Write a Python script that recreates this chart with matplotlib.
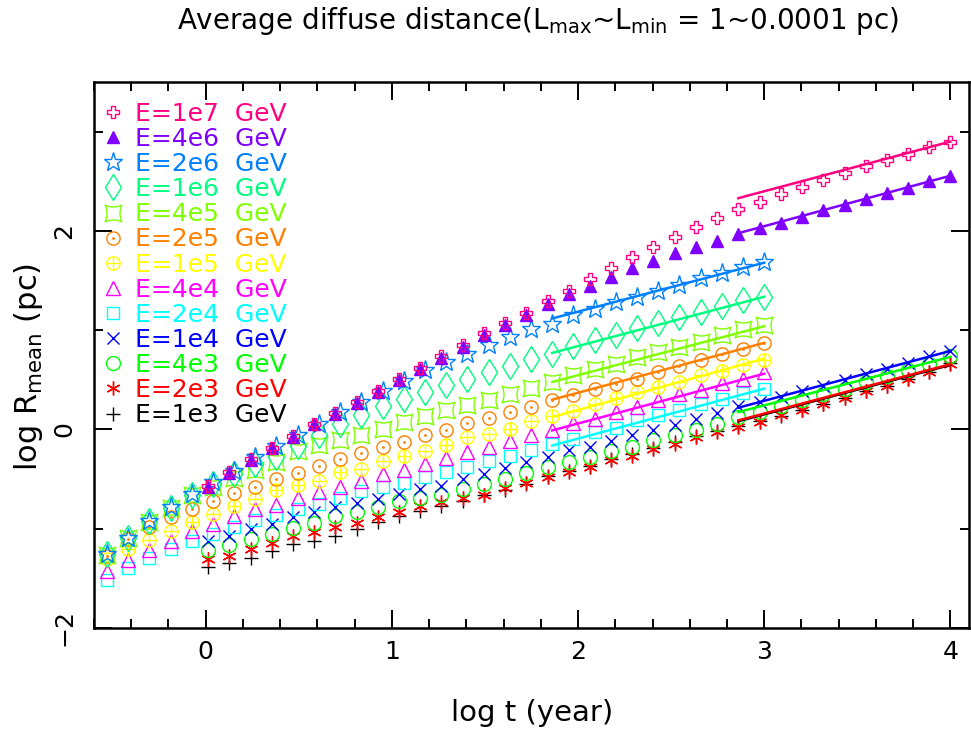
import matplotlib
matplotlib.use("Agg")
import matplotlib.pyplot as plt
from matplotlib.path import Path
from matplotlib.ticker import MultipleLocator

# log t (year) sampling: two grids, ending at 4 and at 3
logt_a = [0.014, 0.127, 0.241, 0.355, 0.469, 0.583, 0.697, 0.811, 0.925, 1.039,
          1.153, 1.266, 1.380, 1.494, 1.608, 1.722, 1.836, 1.950, 2.064, 2.178,
          2.292, 2.405, 2.519, 2.633, 2.747, 2.861, 2.975, 3.089, 3.203, 3.317,
          3.431, 3.544, 3.658, 3.772, 3.886, 4.000]
logt_b = [-0.531, -0.417, -0.303, -0.189, -0.075, 0.039, 0.153, 0.266, 0.380, 0.494,
          0.608, 0.722, 0.836, 0.950, 1.064, 1.178, 1.292, 1.405, 1.519, 1.633,
          1.747, 1.861, 1.975, 2.089, 2.203, 2.317, 2.431, 2.544, 2.658, 2.772,
          2.886, 3.000]

# range of the fitted straight lines
fit_a = [2.861, 4.0]
fit_b = [1.861, 3.0]

# log R_mean (pc) per energy
r_1e7 = [-0.57, -0.43, -0.30, -0.185, -0.071, 0.057, 0.165, 0.276, 0.387, 0.505,
         0.623, 0.737, 0.848, 0.967, 1.074, 1.175, 1.296, 1.397, 1.512, 1.623,
         1.734, 1.842, 1.943, 2.037, 2.128, 2.219, 2.296, 2.371, 2.441, 2.515,
         2.582, 2.650, 2.710, 2.778, 2.845, 2.896]
r_4e6 = [-0.58, -0.44, -0.31, -0.19, -0.08, 0.05, 0.16, 0.27, 0.38, 0.50,
         0.61, 0.72, 0.83, 0.949, 1.051, 1.152, 1.263, 1.361, 1.444, 1.539,
         1.623, 1.700, 1.775, 1.842, 1.900, 1.973, 2.030, 2.084, 2.144, 2.212,
         2.263, 2.323, 2.381, 2.437, 2.505, 2.556]
r_2e6 = [-1.25, -1.09, -0.92, -0.785, -0.65, -0.532, -0.421, -0.28, -0.162, -0.051,
         0.057, 0.175, 0.276, 0.387, 0.488, 0.596, 0.680, 0.764, 0.848, 0.932,
         1.007, 1.067, 1.152, 1.212, 1.280, 1.336, 1.397, 1.455, 1.522, 1.579,
         1.639, 1.690]
r_1e6 = [-1.25, -1.09, -0.92, -0.79, -0.66, -0.55, -0.45, -0.35, -0.28, -0.17,
         -0.06, 0.05, 0.15, 0.24, 0.31, 0.377, 0.444, 0.512, 0.579, 0.636,
         0.705, 0.765, 0.838, 0.899, 0.949, 1.017, 1.068, 1.128, 1.185, 1.242,
         1.303, 1.337]
r_4e5 = [-1.26, -1.09, -0.93, -0.79, -0.66, -0.58, -0.488, -0.407, -0.33, -0.22,
         -0.16, -0.11, -0.051, 0.007, 0.074, 0.131, 0.192, 0.242, 0.30, 0.355,
         0.42, 0.478, 0.545, 0.613, 0.664, 0.730, 0.781, 0.831, 0.882, 0.949,
         1.007, 1.05]
r_2e5 = [-1.27, -1.10, -0.98, -0.886, -0.801, -0.724, -0.643, -0.576, -0.50, -0.44,
         -0.37, -0.30, -0.24, -0.18, -0.125, -0.061, -0.003, 0.064, 0.113, 0.175,
         0.228, 0.293, 0.350, 0.411, 0.461, 0.512, 0.579, 0.640, 0.697, 0.758,
         0.815, 0.866]
r_1e5 = [-1.31, -1.205, -1.115, -1.02, -0.929, -0.852, -0.768, -0.70, -0.609, -0.56,
         -0.515, -0.431, -0.397, -0.313, -0.27, -0.219, -0.152, -0.077, -0.048, 0.0,
         0.08, 0.131, 0.185, 0.253, 0.320, 0.377, 0.427, 0.478, 0.545, 0.589,
         0.653, 0.704]
r_4e4 = [-1.43, -1.317, -1.216, -1.121, -1.027, -0.953, -0.869, -0.80, -0.758, -0.69,
         -0.633, -0.576, -0.522, -0.448, -0.405, -0.347, -0.286, -0.229, -0.172, -0.118,
         -0.056, -0.003, 0.064, 0.108, 0.175, 0.225, 0.293, 0.354, 0.401, 0.468,
         0.512, 0.579]
r_2e4 = [-1.52, -1.40, -1.296, -1.205, -1.128, -1.054, -0.98, -0.915, -0.859, -0.80,
         -0.751, -0.69, -0.623, -0.58, -0.542, -0.482, -0.431, -0.374, -0.320, -0.268,
         -0.205, -0.145, -0.094, -0.027, 0.013, 0.091, 0.141, 0.199, 0.253, 0.310,
         0.367, 0.411]
r_1e4 = [-1.121, -1.07, -1.003, -0.953, -0.886, -0.835, -0.785, -0.744, -0.70, -0.65,
         -0.599, -0.566, -0.498, -0.448, -0.39, -0.33, -0.28, -0.212, -0.172, -0.118,
         -0.061, -0.003, 0.040, 0.108, 0.165, 0.232, 0.276, 0.326, 0.387, 0.434,
         0.495, 0.556, 0.613, 0.670, 0.737, 0.791]
r_4e3 = [-1.216, -1.162, -1.104, -1.054, -0.99, -0.946, -0.87, -0.83, -0.78, -0.717,
         -0.69, -0.657, -0.599, -0.55, -0.498, -0.441, -0.38, -0.33, -0.279, -0.219,
         -0.178, -0.104, -0.061, -0.003, 0.057, 0.124, 0.175, 0.232, 0.293, 0.354,
         0.411, 0.478, 0.535, 0.596, 0.663, 0.74]
r_2e3 = [-1.306, -1.27, -1.205, -1.148, -1.07, -1.037, -0.987, -0.946, -0.879, -0.835,
         -0.768, -0.734, -0.69, -0.66, -0.589, -0.535, -0.478, -0.431, -0.380, -0.306,
         -0.263, -0.195, -0.145, -0.077, -0.027, 0.023, 0.074, 0.141, 0.192, 0.259,
         0.320, 0.387, 0.434, 0.512, 0.579, 0.663]
r_1e3 = [-1.39, -1.35, -1.296, -1.222, -1.155, -1.121, -1.07, -1.003, -0.936, -0.869,
         -0.82, -0.768, -0.717, -0.66, -0.609, -0.549, -0.465, -0.42, -0.37, -0.30,
         -0.25, -0.19, -0.13, -0.07, -0.02, 0.03, 0.08, 0.14, 0.20, 0.26,
         0.32, 0.39, 0.44, 0.51, 0.58, 0.67]

# fitted line end values
fit_1e7 = [2.33, 2.90]
fit_4e6 = [1.977, 2.556]
fit_2e6 = [1.118, 1.680]
fit_1e6 = [0.771, 1.337]
fit_4e5 = [0.478, 1.040]
fit_2e5 = [0.30, 0.872]
fit_1e5 = [0.124, 0.714]
fit_4e4 = [-0.01, 0.562]
fit_2e4 = [-0.162, 0.411]
fit_1e4 = [0.219, 0.791]
fit_4e3 = [0.175, 0.731]
fit_2e3 = [0.091, 0.657]
fit_1e3 = [0.083, 0.650]

labels = ["E=1e7  GeV", "E=4e6  GeV", "E=2e6  GeV", "E=1e6  GeV", "E=4e5  GeV",
          "E=2e5  GeV", "E=1e5  GeV", "E=4e4  GeV", "E=2e4  GeV", "E=1e4  GeV",
          "E=4e3  GeV", "E=2e3  GeV", "E=1e3  GeV"]
colors = ["#ff0080", "#8000ff", "#0080ff", "#00ff80", "#80ff00", "#ff8000", "#ffff00",
          "#ff00ff", "#00ffff", "#0000ff", "#00ff00", "#ff0000", "#000000"]

# concave square symbol
P = Path
concave = Path([(-1, -1), (0, -0.55), (1, -1), (0.55, 0), (1, 1), (0, 0.55), (-1, 1),
                (-0.55, 0), (-1, -1), (-1, -1)],
               [P.MOVETO, P.CURVE3, P.CURVE3, P.CURVE3, P.CURVE3, P.CURVE3, P.CURVE3,
                P.CURVE3, P.CURVE3, P.CLOSEPOLY])

# (marker, size, filled, overlay marker, overlay size)
styles = [("P", 9, False, None, 0), ("^", 9, True, None, 0), ("*", 14, False, None, 0),
          ("d", 13, False, None, 0), (concave, 12, False, None, 0),
          ("o", 9.5, False, ".", 2), ("o", 9.5, False, "+", 9.5),
          ("^", 9.5, False, None, 0), ("s", 8, False, None, 0), ("x", 8, False, None, 0),
          ("o", 10, False, None, 0), ((6, 2, 0), 10, False, None, 0), ("+", 10, False, None, 0)]

series = [(logt_a, r_1e7, fit_a, fit_1e7), (logt_a, r_4e6, fit_a, fit_4e6),
          (logt_b, r_2e6, fit_b, fit_2e6), (logt_b, r_1e6, fit_b, fit_1e6),
          (logt_b, r_4e5, fit_b, fit_4e5), (logt_b, r_2e5, fit_b, fit_2e5),
          (logt_b, r_1e5, fit_b, fit_1e5), (logt_b, r_4e4, fit_b, fit_4e4),
          (logt_b, r_2e4, fit_b, fit_2e4), (logt_a, r_1e4, fit_a, fit_1e4),
          (logt_a, r_4e3, fit_a, fit_4e3), (logt_a, r_2e3, fit_a, fit_2e3),
          (logt_a, r_1e3, fit_a, fit_1e3)]

plt.rcParams['font.family'] = 'DejaVu Sans'
fig = plt.figure(figsize=(9.71, 7.33), dpi=100)
ax = fig.add_axes([0.0968, 0.1433, 0.9012, 0.7448])

handles = [None] * len(series)
for i in reversed(range(len(series))):
    x, y, fx, fy = series[i]
    mk, ms, filled, ov, ovs = styles[i]
    c = colors[i]
    h = ax.plot(x, y, ls="none", marker=mk, ms=ms, mec=c, mew=1.0,
                mfc=c if filled else "none", zorder=3)[0]
    if ov is not None:
        h2 = ax.plot(x, y, ls="none", marker=ov, ms=ovs, mec=c, mfc=c, mew=1.0, zorder=3)[0]
        handles[i] = (h, h2)
    else:
        handles[i] = h
    ax.plot(fx, fy, color=c, lw=1.8, zorder=4)

leg = ax.legend(handles, labels, loc="upper left", bbox_to_anchor=(0.003, 0.973),
                frameon=False, fontsize=18, handlelength=0.9, handletextpad=0.45,
                labelspacing=0.045, borderaxespad=0.0, borderpad=0.2)
for txt, c in zip(leg.get_texts(), colors):
    txt.set_color(c)

ax.set_xlim(-0.6, 4.1)
ax.set_ylim(-2, 3.5)
ax.xaxis.set_major_locator(MultipleLocator(1))
ax.xaxis.set_minor_locator(MultipleLocator(0.2))
ax.yaxis.set_major_locator(MultipleLocator(2))
ax.yaxis.set_minor_locator(MultipleLocator(1))
ax.tick_params(which="both", direction="in", top=True, right=True, width=1.4,
               labelsize=18)
ax.tick_params(which="major", length=13)
ax.tick_params(which="minor", length=6.5)
ax.tick_params(axis="x", pad=9)
ax.tick_params(axis="y", pad=13)
for lab in ax.get_yticklabels():
    lab.set_rotation(90)
    lab.set_va("center")
for sp in ax.spines.values():
    sp.set_linewidth(1.8)

fig.text(0.554, 0.972, r"Average diffuse distance(L$_{\rm max}$~L$_{\rm min}$ = 1~0.0001 pc)",
         ha="center", va="center", fontsize=20)
fig.text(0.548, 0.027, "log t (year)", ha="center", va="center", fontsize=21)
fig.text(0.029, 0.5, r"log R$_{\rm mean}$ (pc)", ha="center", va="center",
         rotation=90, fontsize=22)

fig.savefig("out.png", dpi=100)
